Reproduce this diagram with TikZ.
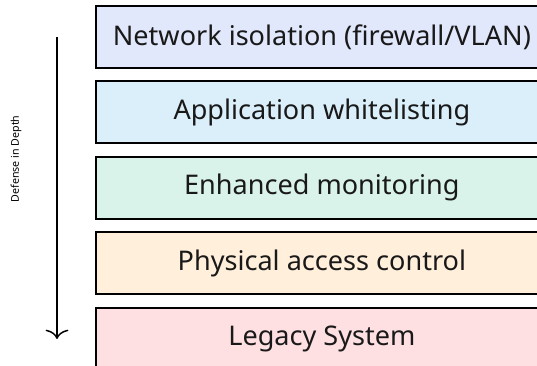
\documentclass[tikz,border=0pt]{standalone}
\usepackage{fontspec}
\setmainfont{Noto Sans}
\usetikzlibrary{arrows.meta}
\definecolor{layerA}{HTML}{E1E8FB}
\definecolor{layerB}{HTML}{DBEFFA}
\definecolor{layerC}{HTML}{D9F3EA}
\definecolor{layerD}{HTML}{FFEFDB}
\definecolor{layerE}{HTML}{FFE0E2}
\tikzset{
  layer/.style={draw=black, line width=1.3pt, minimum width=452*0.75pt,
    minimum height=62*0.75pt, inner sep=0pt, anchor=north west,
    font=\fontsize{20.3}{24}\selectfont, text=black!90},
  depth/.style={-{To[length=7pt,width=17pt]}, line width=1.1pt},
  sidelabel/.style={font=\fontsize{8}{10}\selectfont, rotate=90}
}
\begin{document}
\begin{tikzpicture}[x=0.75pt,y=-0.75pt]
  \useasboundingbox (0,0) rectangle (537,366);
  \clip (0,0) rectangle (537,366);
  \node[layer, fill=layerA] (net) at (95,5) {Network isolation (firewall/VLAN)};
  \node[layer, fill=layerB] (app) at (95,80.5) {Application whitelisting};
  \node[layer, fill=layerC] (mon) at (95,156) {Enhanced monitoring};
  \node[layer, fill=layerD] (phy) at (95,231.5) {Physical access control};
  \node[layer, fill=layerE] (leg) at (95,307.5) {Legacy System};
  \coordinate (top) at (57,37);
  \coordinate (bottom) at (57,339);
  \draw[depth] (top) -- (bottom);
  \node[sidelabel] (lbl) at (16,159) {Defense in Depth};
\end{tikzpicture}
\end{document}
